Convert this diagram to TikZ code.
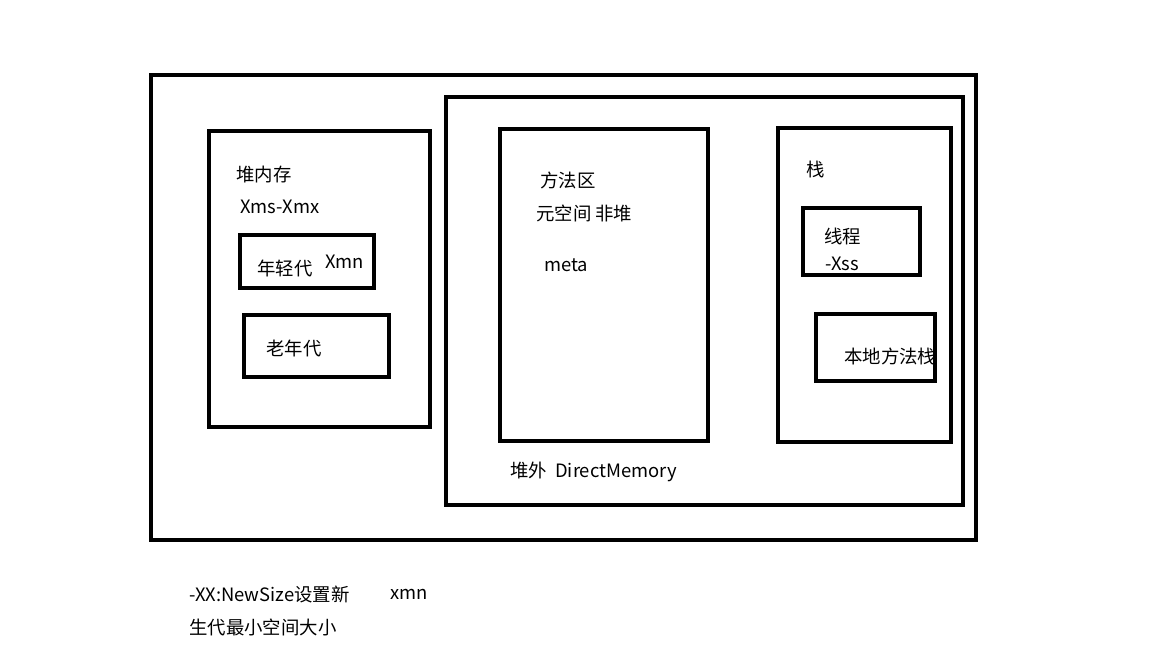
\documentclass[tikz,border=0pt]{standalone}
\usepackage{fontspec}
\setmainfont{Noto Sans CJK SC}
\usepackage{tikz}

\begin{document}
\begin{tikzpicture}[x=0.75pt, y=-0.75pt,
        M box/.style={draw, line width=3.4pt},
        M text/.style={anchor=west, inner sep=0pt, font=\fontsize{13.8}{16}\selectfont}]

    \useasboundingbox (0,0) rectangle (1152,648);

    % boxes
    \draw[M box] (151,75) rectangle (976,540);
    \draw[M box] (446,97) rectangle (963,505);
    \draw[M box] (209,131) rectangle (430,427);
    \draw[M box] (240,235) rectangle (374,288);
    \draw[M box] (244,315) rectangle (389,377);
    \draw[M box] (500,129) rectangle (708,441);
    \draw[M box] (778,128) rectangle (951,442);
    \draw[M box] (803,208) rectangle (920,275);
    \draw[M box] (816,314) rectangle (935,381);

    % heap
    \node[M text] (heap) at (236,175) {堆内存};
    \node[M text] (xms) at (240,207) {Xms-Xmx};
    \node[M text] (young) at (257,268) {年轻代};
    \node[M text] (xmn) at (325,262) {Xmn};
    \node[M text] (old) at (266,348) {老年代};

    % non-heap
    \node[M text] (method) at (540,180) {方法区};
    \node[M text] (meta space) at (536,213) {元空间 非堆};
    \node[M text] (meta) at (544,265) {meta};
    \node[M text] (direct) at (510,472) {堆外\ \ DirectMemory};

    % stack
    \node[M text] (stack) at (806,170) {栈};
    \node[M text] (thread) at (824,236) {线程};
    \node[M text] (xss) at (825,264) {-Xss};
    \node[M text] (native) at (844,356) {本地方法栈};

    % note
    \node[M text] (newsize) at (189,594) {-XX:NewSize设置新};
    \node[M text] (xmn note) at (390,594) {xmn};
    \node[M text] (newsize2) at (189,627) {生代最小空间大小};
\end{tikzpicture}
\end{document}
